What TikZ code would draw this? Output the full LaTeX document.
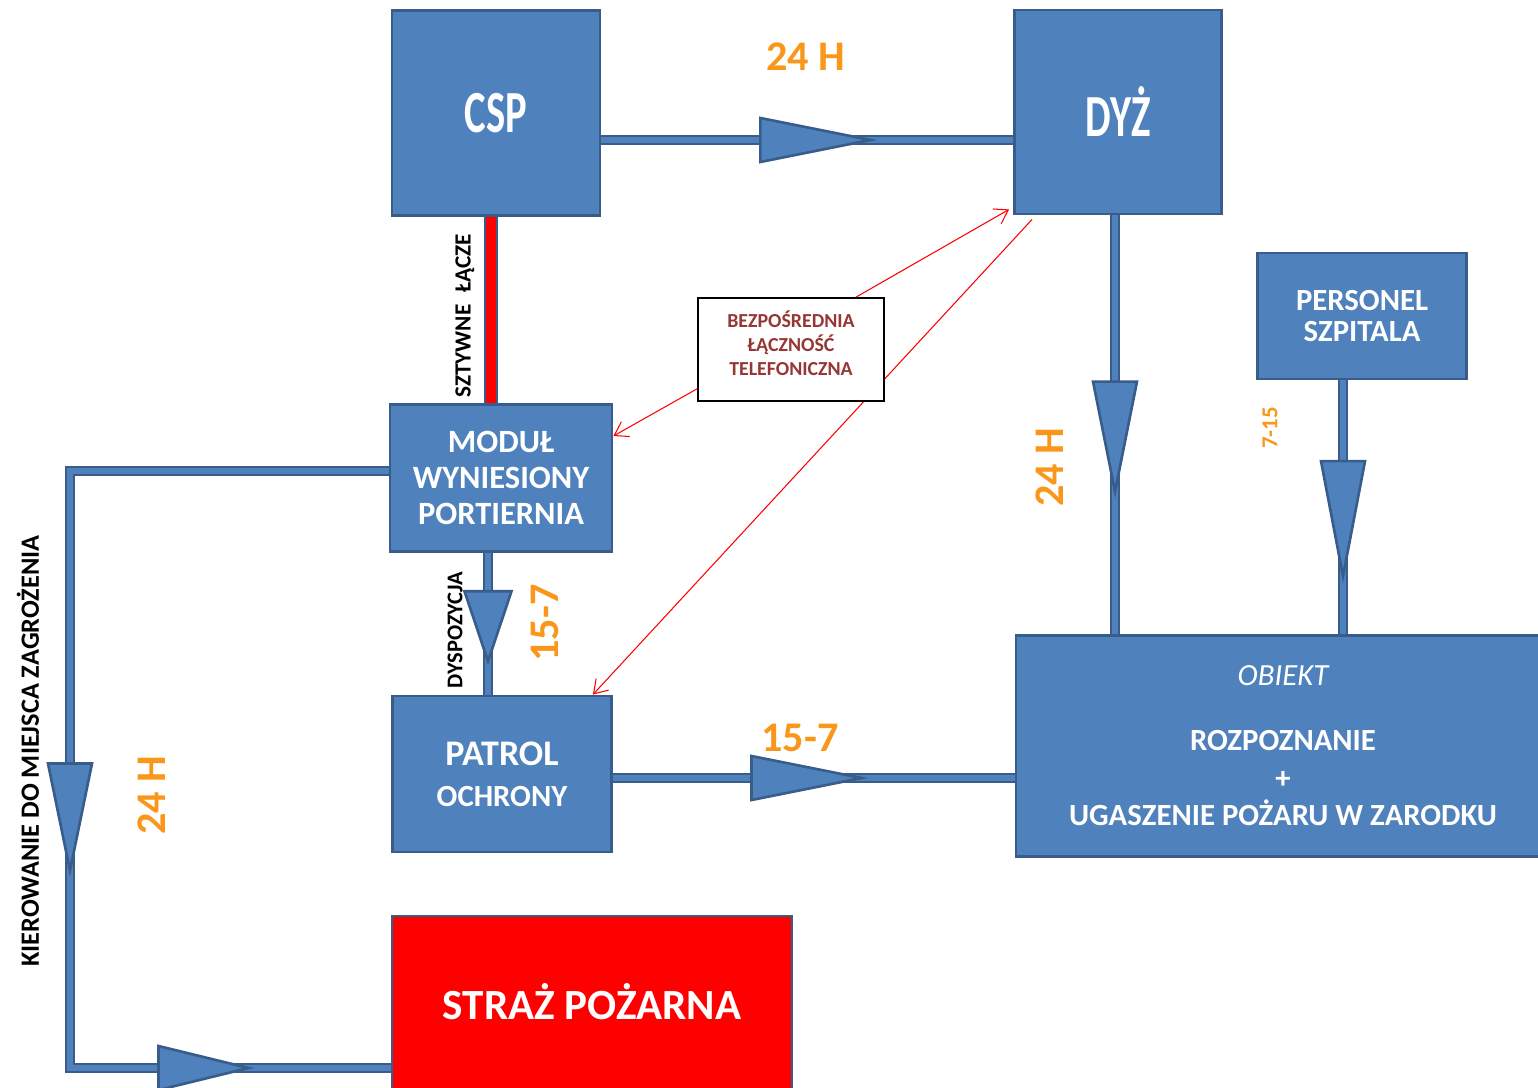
\documentclass[tikz,border=0pt]{standalone}
\usepackage{fontspec}
\setmainfont{Carlito}
\usepackage{graphicx}
\usetikzlibrary{positioning,shapes.geometric,arrows.meta}

\definecolor{boxblue}{RGB}{79,129,189}
\definecolor{edgeblue}{RGB}{56,93,138}
\definecolor{hourorange}{RGB}{250,150,25}
\definecolor{teltext}{RGB}{149,55,53}

\begin{document}
\begin{tikzpicture}[
  x=0.2mm, y=-0.2mm,
  every node/.style={align=center},
  blk/.style   ={rectangle, draw=edgeblue, line width=1.6pt, fill=boxblue,
                 text=white, inner sep=0pt},
  bigtxt/.style={font=\fontsize{34}{40}\selectfont\bfseries},
  midtxt/.style={font=\fontsize{18.5}{20.5}\selectfont\bfseries},
  flow/.style  ={draw=edgeblue, double=boxblue, line width=1.2pt,
                 double distance=3.4pt},
  link/.style  ={flow, double=red, double distance=5.4pt},
  tri/.style   ={isosceles triangle, isosceles triangle stretches,
                 draw=edgeblue, fill=boxblue, line width=1.5pt, inner sep=0pt,
                 minimum height=22mm, minimum width=8.8mm,
                 sloped, allow upside down},
  tel/.style   ={draw=red, line width=0.6pt,
                 -{Straight Barb[length=2.6mm, width=3.4mm]}},
  hour/.style  ={text=hourorange, font=\fontsize{24}{28}\selectfont\bfseries},
  note/.style  ={font=\fontsize{13.2}{15}\selectfont\bfseries},
]
\useasboundingbox (0,0) rectangle (1538,1087);

% Main blocks
\node[blk, bigtxt, minimum width=41.6mm, minimum height=41mm] (csp) at (496,113)
  {\scalebox{0.68}[1]{CSP}};
\node[blk, bigtxt, minimum width=41.4mm, minimum height=40.8mm] (dyz) at (1118,112)
  {\scalebox{0.68}[1]{DYŻ}};
\node[blk, midtxt, minimum width=44.4mm, minimum height=29.4mm] (modul) at (501,478)
  {MODUŁ\\WYNIESIONY\\PORTIERNIA};
\node[blk, font=\fontsize{17.5}{23.5}\selectfont\bfseries,
      minimum width=43.8mm, minimum height=31.2mm] (patrol) at (502,774)
  {{\fontsize{20.5}{23.5}\selectfont PATROL}\\OCHRONY};
\node[blk, font=\fontsize{17.5}{17.8}\selectfont\bfseries,
      minimum width=41.8mm, minimum height=25.2mm] (personel) at (1362,316)
  {PERSONEL\\SZPITALA};
\node[blk, font=\fontsize{17.5}{21.4}\selectfont\bfseries,
      minimum width=106.8mm, minimum height=44.2mm] (obiekt) at (1283,746)
  {{\mdseries\itshape OBIEKT}\\[5.4mm] ROZPOZNANIE\\+\\UGASZENIE POŻARU W ZARODKU};
\node[blk, fill=red, font=\fontsize{24.5}{30}\selectfont\bfseries,
      text height=0pt, text depth=19.6mm,
      minimum width=80mm, minimum height=60.8mm] (straz) at (592,1068)
  {STRAŻ POŻARNA};

% Blue connectors
\draw[flow] ([yshift=-5.4mm]csp.east) --
  node[tri, pos=.43] {} ([yshift=-5.4mm]csp.east -| dyz.west);
\draw[link] ([xshift=-1mm]csp.south) -- ([xshift=-1mm]csp.south |- modul.north);
\draw[flow] ([xshift=-2.6mm]modul.south) --
  node[tri, pos=.39, minimum height=14mm, minimum width=9.4mm] {}
  ([xshift=-2.6mm]modul.south |- patrol.north);
\draw[flow] ([xshift=-0.6mm]dyz.south) --
  node[tri, pos=.44] {} ([xshift=-0.6mm]dyz.south |- obiekt.north);
\draw[flow] ([xshift=-3.8mm]personel.south) --
  node[tri, pos=.39, minimum height=23mm] {} ([xshift=-3.8mm]personel.south |- obiekt.north);
\draw[flow] ([yshift=-0.8mm]patrol.east) --
  node[tri, pos=.39] {} ([yshift=-0.8mm]patrol.east -| obiekt.west);

% Path to the fire brigade
\coordinate (kier) at (70,0);
\draw[flow] ([yshift=1.4mm]modul.west) -- ([yshift=1.4mm]modul.west -| kier)
  -- node[tri, pos=.52, minimum height=21.4mm] {} (kier |- straz.west)
  -- node[tri, pos=.33, minimum height=18mm] {} (straz.west);

% Telephone links
\draw[tel, {Straight Barb[length=2.6mm, width=3.4mm]}-]
  ([xshift=-4mm]patrol.north east) -- ([xshift=3.8mm, yshift=-0.8mm]dyz.south west);
\node[draw=black, line width=0.8pt, fill=white,
      minimum width=37.2mm, minimum height=20.6mm, inner sep=0pt,
      label={[text=teltext, font=\fontsize{11.3}{13.6}\selectfont\bfseries,
              yshift=1.3mm]center:BEZPOŚREDNIA\\ŁĄCZNOŚĆ\\TELEFONICZNA}]
  (telbox) at (791,349.5) {};
\draw[tel] ([yshift=2.6mm]telbox.south west) -- ([yshift=8.4mm]modul.east);
\draw[tel] ([xshift=-5.8mm]telbox.north east) -- ([xshift=-0.8mm, yshift=1.2mm]dyz.south west);

% Labels
\node[hour] (h24top) at (806,57) {24 H};
\node[hour] (h157bot) at (800,738) {15-7};
\node[hour, rotate=90] (h157mid) at (545,623) {15-7};
\node[hour, rotate=90] (h24dyz) at (1050,467) {24 H};
\node[hour, rotate=90] (h24left) at (152,795) {24 H};
\node[hour, rotate=90, font=\fontsize{13}{15}\selectfont\bfseries] (h715) at (1270,428) {7-15};
\node[note, rotate=90] (sztywne) at (465,316) {SZTYWNE\enspace ŁĄCZE};
\node[note, rotate=90, font=\fontsize{12.8}{15}\selectfont\bfseries] (dysp) at (455,630) {DYSPOZYCJA};
\node[note, rotate=90, font=\fontsize{15}{18}\selectfont\bfseries] (kierlbl) at (28,751)
  {KIEROWANIE DO MIEJSCA ZAGROŻENIA};

\end{tikzpicture}
\end{document}
